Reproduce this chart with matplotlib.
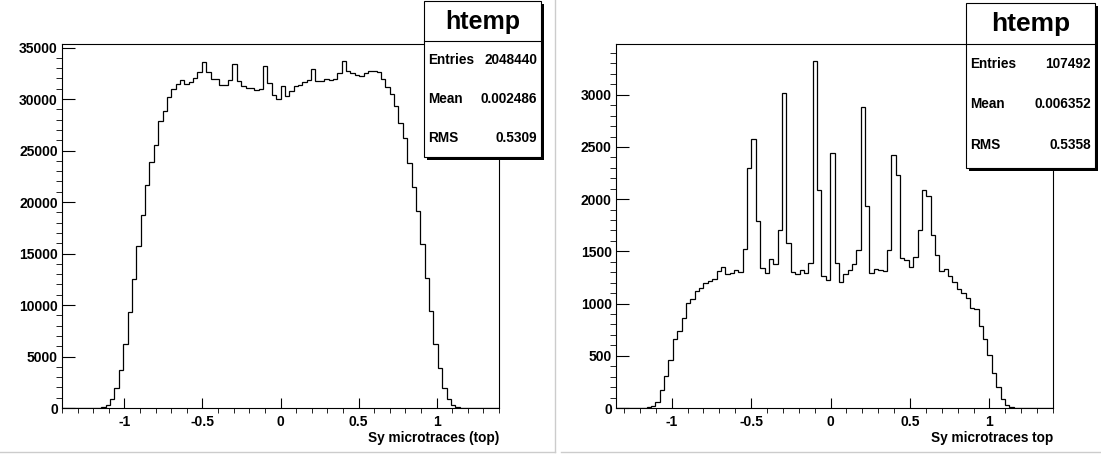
import numpy as np
import matplotlib
matplotlib.use("Agg")
import matplotlib.pyplot as plt
from matplotlib.patches import Rectangle
from matplotlib.ticker import MultipleLocator

## GLOBAL VARIABLES
W, H = 1101, 455
FONT = ["Liberation Sans", "DejaVu Sans"]
plt.rcParams["font.family"] = FONT
plt.rcParams["font.weight"] = "bold"
plt.rcParams["axes.unicode_minus"] = False

# left histogram: 100 bins on [-1.4, 1.4]
left_range = (-1.4, 1.4)
left_counts = [0, 0, 0, 0, 0, 0, 0, 0,
               20, 100, 330, 880, 1980, 3700, 6250, 9300, 12500, 15700,
               18770, 21620, 23850, 25530, 27830, 28870, 30190, 30970, 31420, 31880,
               31420, 31650, 32000, 32590, 33560, 32620, 31940, 31940, 31390, 31390,
               31810, 33400, 31780, 31290, 31070, 31070, 30840, 30970, 33170, 31590,
               30360, 30000, 31230, 30320, 30740, 31230, 31390, 31620, 31880, 32910,
               31780, 31780, 31970, 31810, 31970, 32520, 33660, 32750, 32520, 32360,
               32200, 32520, 32750, 32750, 32590, 31970, 31160, 30490, 29290, 27670,
               26210, 23790, 21420, 19090, 15970, 12670, 9430, 6190, 3920, 1980,
               840, 320, 100, 20, 0, 0, 0, 0, 0, 0, 0, 0]
left_xlabel = "Sy microtraces (top)"
left_stats = [("Entries", "2048440"), ("Mean", "0.002486"), ("RMS", "0.5309")]
left_yticks = [0, 5000, 10000, 15000, 20000, 25000, 30000, 35000]

# right histogram: 100 bins on [-1.35, 1.4]
right_range = (-1.35, 1.4)
right_counts = [0, 0, 0, 0, 0, 0, 0,
                10, 20, 58, 176, 304, 464, 662, 733, 864, 1008,
                1043, 1120, 1152, 1194, 1216, 1232, 1312, 1354, 1280, 1296,
                1322, 1306, 1520, 2297, 2578, 1795, 1338, 1296, 1424, 1376,
                1706, 3013, 1578, 1306, 1283, 1322, 1290, 1386, 3320, 2089,
                1264, 1226, 2441, 1386, 1203, 1280, 1322, 1376, 1514, 2879,
                1936, 1290, 1328, 1322, 1315, 1514, 2422, 2233, 1434, 1418,
                1354, 1443, 1706, 2083, 2035, 1658, 1462, 1312, 1328, 1267,
                1203, 1136, 1098, 1056, 960, 944, 784, 659, 506, 336,
                202, 90, 26, 10, 0, 0, 0, 0, 0, 0, 0, 0, 0]
right_xlabel = "Sy microtraces top"
right_stats = [("Entries", "107492"), ("Mean", "0.006352"), ("RMS", "0.5358")]
right_yticks = [0, 500, 1000, 1500, 2000, 2500, 3000]

x_ticks = [-1, -0.5, 0, 0.5, 1]
x_tick_labels = ["-1", "-0.5", "0", "0.5", "1"]
title = "htemp"


# pixel box (left, top, right, bottom) -> figure fraction rect
def px_rect(x0, y0, x1, y1):
    return [x0 / W, 1 - y1 / H, (x1 - x0) / W, (y1 - y0) / H]


# function to draw one ROOT style histogram pad
def plot_hist(fig, box, counts, xrange, yticks, ystep_minor):
    ax = fig.add_axes(px_rect(*box))
    edges = np.linspace(xrange[0], xrange[1], len(counts) + 1)
    ax.stairs(counts, edges, color="black", linewidth=0.9)
    ax.set_xlim(*xrange)
    ax.set_ylim(0, max(counts) * 1.05)
    ax.set_xticks(x_ticks)
    ax.set_xticklabels(x_tick_labels)
    ax.xaxis.set_minor_locator(MultipleLocator(0.1))
    ax.set_yticks(yticks)
    ax.set_yticklabels([str(t) for t in yticks])
    ax.yaxis.set_minor_locator(MultipleLocator(ystep_minor))
    ax.tick_params(direction="in", width=0.8, labelsize=10, top=False, right=False)
    ax.tick_params(axis="x", which="major", length=7, pad=5)
    ax.tick_params(axis="x", which="minor", length=3.6)
    ax.tick_params(axis="y", which="major", length=9, pad=3)
    ax.tick_params(axis="y", which="minor", length=4.5)
    for sp in ax.spines.values():
        sp.set_linewidth(0.8)
    return ax


# function to draw the statistics box
def plot_stats(ov, x0, y0, x1, y1, div_y, rows, row_y, title_size):
    ov.add_patch(Rectangle((x0 + 3, y0 + 3), x1 - x0, y1 - y0, facecolor="black", edgecolor="none"))
    ov.add_patch(Rectangle((x0, y0), x1 - x0, y1 - y0, facecolor="white", edgecolor="black", linewidth=0.8))
    ov.plot([x0, x1], [div_y, div_y], color="black", linewidth=0.8)
    ov.text((x0 + x1) / 2, (y0 + div_y) / 2 + 1, title, ha="center", va="center",
            fontsize=title_size, fontweight="bold")
    for (name, value), yy in zip(rows, row_y):
        ov.text(x0 + 4, yy, name, ha="left", va="center", fontsize=9.8)
        ov.text(x1 - 4, yy, value, ha="right", va="center", fontsize=9.8)


fig = plt.figure(figsize=(W / 100, H / 100), dpi=100, facecolor="white")

plot_hist(fig, (62, 44, 499, 408), left_counts, left_range, left_yticks, 1000)
plot_hist(fig, (616, 44, 1053, 408), right_counts, right_range, right_yticks, 100)

ov = fig.add_axes([0, 0, 1, 1], zorder=5)
ov.set_xlim(0, W)
ov.set_ylim(H, 0)
ov.axis("off")

# pad borders
ov.plot([555, 555], [0, 452], color="#cccccc", linewidth=1)
ov.plot([0, 555], [452, 452], color="#cccccc", linewidth=1)
ov.plot([561, W], [452, 452], color="#cccccc", linewidth=1)

# axis titles
ov.text(499, 438, left_xlabel, ha="right", va="center", fontsize=9.8)
ov.text(1053, 438, right_xlabel, ha="right", va="center", fontsize=9.8)

plot_stats(ov, 424, 1, 541, 157, 41, left_stats, [60, 99, 138], 18)
plot_stats(ov, 966, 3, 1095, 168, 44, right_stats, [64, 104, 145], 19)

fig.savefig("out.png", dpi=100, facecolor="white")
